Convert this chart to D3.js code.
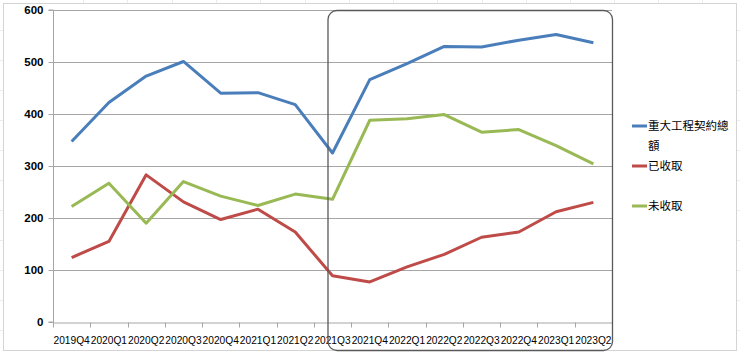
<!DOCTYPE html>
<html><head><meta charset="utf-8">
<script src="https://cdn.jsdelivr.net/npm/d3@7"></script>
<style>body{margin:0;background:#fff}svg{display:block}</style>
</head><body>
<svg id="c" width="740" height="354"></svg>
<script>
const categories = ["2019Q4","2020Q1","2020Q2","2020Q3","2020Q4","2021Q1","2021Q2","2021Q3","2021Q4","2022Q1","2022Q2","2022Q3","2022Q4","2023Q1","2023Q2"];
const totalContract = [347,422,473,501,440,441,418,325,466,497,530,529,542,553,537];
const received = [124,155,283,231,197,217,173,89,77,106,130,163,173,212,230];
const unreceived = [222,267,190,270,242,224,246,236,388,391,399,365,370,339,304];
const seriesNames = ["重大工程契約總額","已收取","未收取"];
const yTicks = [0,100,200,300,400,500,600];

const series = [
  {name: seriesNames[0], values: totalContract, color: "#4a7ebb"},
  {name: seriesNames[1], values: received, color: "#be4b48"},
  {name: seriesNames[2], values: unreceived, color: "#98b954"}
];

const svg = d3.select("#c");
const L = 53, R = 612, T = 10, B = 322;

// faint spreadsheet grid outside chart
const bg = svg.append("g").attr("stroke", "#ececec").attr("stroke-width", 1);
[83,127,172,216,260,305,349,393,437,482,526,570,614,658,702].forEach(x => bg.append("line").attr("x1", x+0.5).attr("x2", x+0.5).attr("y1", 0).attr("y2", 3));
[30,60,90,120,150,180,210,240,270,300,330].forEach(y => {
  bg.append("line").attr("x1", 0).attr("x2", 3).attr("y1", y+0.5).attr("y2", y+0.5);
  bg.append("line").attr("x1", 737).attr("x2", 740).attr("y1", y+0.5).attr("y2", y+0.5);
});

// chart area border
svg.append("rect").attr("x", 3.5).attr("y", 3.5).attr("width", 733).attr("height", 347)
  .attr("fill", "#fff").attr("stroke", "#d4d4d4");

const x = d3.scaleBand().domain(categories).range([L, R]);
const y = d3.scaleLinear().domain([0, 600]).range([B, T]);

// gridlines
svg.append("g").selectAll("line").data(yTicks.filter(d => d > 0)).join("line")
  .attr("x1", L).attr("x2", R)
  .attr("y1", d => Math.round(y(d)) + 0.5).attr("y2", d => Math.round(y(d)) + 0.5)
  .attr("stroke", "#a6a6a6").attr("stroke-width", 1);

// y axis
const ya = svg.append("g").attr("transform", `translate(${L + 0.5},0)`)
  .call(d3.axisLeft(y).tickValues(yTicks).tickSize(5).tickPadding(5));
ya.select(".domain").attr("stroke", "#a6a6a6").attr("d", `M-5,${T}H0V${B}H-5`);
ya.selectAll(".tick line").attr("stroke", "#a6a6a6");
ya.selectAll("text").attr("font-family", "Liberation Sans, Arial, sans-serif")
  .attr("font-size", 11.5).attr("font-weight", "bold").attr("fill", "#000");

// x axis
const xa = svg.append("g").attr("transform", `translate(0,${B + 0.5})`)
  .call(d3.axisBottom(x).tickSize(0).tickPadding(14));
xa.select(".domain").attr("stroke", "#a6a6a6");
xa.selectAll("text").attr("font-family", "Liberation Sans, Arial, sans-serif")
  .attr("font-size", 10.2).attr("fill", "#000");
const bounds = categories.map(c => x(c)).concat([R]);
xa.append("g").selectAll("line").data(bounds).join("line")
  .attr("x1", d => Math.round(d) + 0.5).attr("x2", d => Math.round(d) + 0.5)
  .attr("y1", 0).attr("y2", 5).attr("stroke", "#a6a6a6");

// lines
const line = d3.line().x((d, i) => x(categories[i]) + x.bandwidth() / 2).y(d => y(d));
svg.append("g").selectAll("path").data(series).join("path")
  .attr("d", s => line(s.values)).attr("fill", "none")
  .attr("stroke", s => s.color).attr("stroke-width", 3).attr("stroke-linejoin", "round");

// highlight box
const bx = x("2021Q3") + x.bandwidth() / 2 - 4.5;
svg.append("rect").attr("x", bx).attr("y", 10.5).attr("width", R + 0.5 - bx).attr("height", 340)
  .attr("rx", 9).attr("fill", "none").attr("stroke", "#595959").attr("stroke-width", 1.3);

// legend
const lg = svg.append("g").attr("font-family", "Noto Sans CJK TC, sans-serif").attr("font-size", 11.5).attr("fill", "#000");
const legendItems = [
  {s: series[0], y: 126, lines: ["重大工程契約總", "額"]},
  {s: series[1], y: 166, lines: ["已收取"]},
  {s: series[2], y: 206, lines: ["未收取"]}
];
legendItems.forEach(it => {
  lg.append("line").attr("x1", 632).attr("x2", 647).attr("y1", it.y).attr("y2", it.y)
    .attr("stroke", it.s.color).attr("stroke-width", 3);
  it.lines.forEach((t, k) => lg.append("text").attr("x", 648).attr("y", it.y + k * 20)
    .attr("dy", "0.35em").text(t));
});
</script>
</body></html>
